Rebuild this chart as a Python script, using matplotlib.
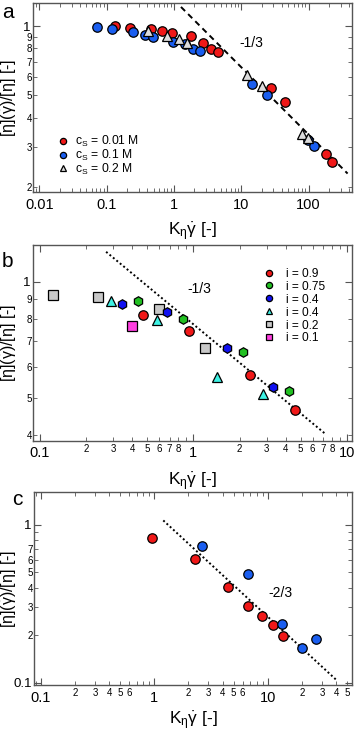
import numpy as np
import matplotlib
matplotlib.use("Agg")
import matplotlib.pyplot as plt
from matplotlib.ticker import LogLocator, FuncFormatter, NullFormatter

plt.rcParams["font.family"] = ["Liberation Sans", "DejaVu Sans"]
plt.rcParams["mathtext.fontset"] = "custom"
plt.rcParams["mathtext.rm"] = "Liberation Sans"
plt.rcParams["mathtext.it"] = "Liberation Sans"

# ---- panel a : salt concentration ----
a_red_x = [0.133, 0.222, 0.451, 0.67, 0.925, 1.79, 2.67, 3.51, 4.55, 27.4, 44.7, 181, 220]
a_red_y = [1.0, 0.983, 0.973, 0.954, 0.935, 0.908, 0.846, 0.792, 0.769, 0.541, 0.469, 0.279, 0.257]
a_blue_x = [0.0726, 0.121, 0.243, 0.367, 0.488, 0.955, 1.46, 1.94, 2.43, 14.6, 23.8, 99, 120]
a_blue_y = [0.987, 0.970, 0.945, 0.914, 0.899, 0.855, 0.833, 0.794, 0.781, 0.563, 0.501, 0.319, 0.301]
a_tri_x = [0.415, 0.778, 1.2, 1.58, 12.0, 20.1, 80.6, 99]
a_tri_y = [0.951, 0.908, 0.88, 0.841, 0.612, 0.548, 0.341, 0.328]
a_fit_x = [1.27, 381]
a_fit_y = [1.21, 0.229]

# ---- panel b : ionic strength ----
b_09_x = [0.473, 0.938, 2.33, 4.62]
b_09_y = [0.819, 0.746, 0.573, 0.464]
b_075_x = [0.433, 0.857, 2.11, 4.23]
b_075_y = [0.891, 0.80, 0.655, 0.52]
b_04h_x = [0.341, 0.678, 1.66, 3.29]
b_04h_y = [0.875, 0.833, 0.671, 0.534]
b_04t_x = [0.291, 0.581, 1.43, 2.85]
b_04t_y = [0.891, 0.795, 0.567, 0.511]
b_02_x = [0.1215, 0.238, 0.599, 1.186]
b_02_y = [0.923, 0.911, 0.849, 0.671]
b_01_x = [0.396]
b_01_y = [0.768]
b_fit_x = [0.27, 7.16]
b_fit_y = [1.196, 0.404]

# ---- panel c ----
c_red_x = [0.951, 2.29, 4.50, 6.66, 8.96, 11.2, 13.6]
c_red_y = [0.82, 0.605, 0.403, 0.306, 0.265, 0.231, 0.197]
c_blue_x = [2.62, 6.75, 13.4, 19.9, 26.6]
c_blue_y = [0.736, 0.485, 0.235, 0.166, 0.19]
c_fit_x = [1.2, 41.0]
c_fit_y = [1.066, 0.1026]

RED = "#f01818"
BLUE = "#1a5ef0"
DBLUE = "#1010f0"
GREEN = "#22c022"
CYAN = "#3ef2e4"
GRAY = "#c8c8c8"
MAGENTA = "#ff3fe0"
FRAME = "#555555"

xlab = r"$\mathregular{K_{\eta}\dot{\gamma}}$ [-]"
ylab = r"$\mathregular{[\eta](\dot{\gamma})/[\eta]}$ [-]"


def digit_fmt(keep):
    def f(v, pos):
        e = np.floor(np.log10(v) + 1e-9)
        d = int(round(v / 10 ** e))
        return str(d) if d in keep else ""
    return FuncFormatter(f)


def major_fmt(v, pos):
    return "%g" % v


def style(ax, xlim, ylim, xminor, yminor, xpad, ylx):
    ax.set_xscale("log")
    ax.set_yscale("log")
    ax.set_xlim(*xlim)
    ax.set_ylim(*ylim)
    for s in ax.spines.values():
        s.set_color(FRAME)
        s.set_linewidth(1.0)
    ax.xaxis.set_major_locator(LogLocator(base=10, numticks=20))
    ax.yaxis.set_major_locator(LogLocator(base=10, numticks=20))
    ax.xaxis.set_minor_locator(LogLocator(base=10, subs=range(2, 10), numticks=20))
    ax.yaxis.set_minor_locator(LogLocator(base=10, subs=range(2, 10), numticks=20))
    ax.xaxis.set_major_formatter(FuncFormatter(major_fmt))
    ax.yaxis.set_major_formatter(FuncFormatter(major_fmt))
    ax.xaxis.set_minor_formatter(digit_fmt(xminor) if xminor else NullFormatter())
    ax.yaxis.set_minor_formatter(digit_fmt(yminor) if yminor else NullFormatter())
    ax.tick_params(which="both", direction="in", top=True, right=True, color=FRAME)
    ax.tick_params(which="major", length=5, labelsize=10.5, pad=4)
    ax.tick_params(which="minor", length=3, labelsize=7, pad=2)
    ax.tick_params(axis="y", which="major", pad=2, labelsize=9.5)
    ax.tick_params(axis="y", which="minor", pad=1)
    ax.set_xlabel(xlab, fontsize=12.5, labelpad=xpad)
    ax.set_ylabel(ylab, fontsize=11.5)
    ax.yaxis.set_label_coords(ylx, 0.5)


fig = plt.figure(figsize=(3.54, 7.31), dpi=100)
axa = fig.add_axes([0.094, 0.737, 0.900, 0.2594])
axb = fig.add_axes([0.094, 0.397, 0.900, 0.2677])
axc = fig.add_axes([0.097, 0.0629, 0.897, 0.2644])

ms = 6.8
kw = dict(ls="none", mec="black", mew=0.9)

# panel a
style(axa, (0.0081, 441), (0.19, 1.263), None, [2, 3, 4, 5, 6, 7, 8, 9], 6, -0.046)
axa.plot(a_fit_x, a_fit_y, color="black", lw=1.4, ls=(0, (3, 2.2)))
axa.plot(a_red_x, a_red_y, "o", mfc=RED, ms=ms, **kw)
axa.plot(a_blue_x, a_blue_y, "o", mfc=BLUE, ms=ms, **kw)
axa.plot(a_tri_x, a_tri_y, "^", mfc="#dcdcdc", ms=ms + 1, **kw)
axa.text(14.3, 0.84, "-1/3", fontsize=10, ha="center", va="center")
ha = [axa.plot([], [], "o", mfc=RED, ms=4.5, **kw)[0],
      axa.plot([], [], "o", mfc=BLUE, ms=4.5, **kw)[0],
      axa.plot([], [], "^", mfc="#dcdcdc", ms=5, **kw)[0]]
axa.legend(ha, [r"c$_\mathregular{S}$ = 0.01 M", r"c$_\mathregular{S}$ = 0.1 M",
                r"c$_\mathregular{S}$ = 0.2 M"],
           loc="lower left", bbox_to_anchor=(0.055, 0.05), frameon=False, fontsize=8.7,
           handlelength=1.0, handletextpad=0.5, labelspacing=-0.12, borderpad=0.0)

# panel b
style(axb, (0.0905, 10.8), (0.386, 1.245), [2, 3, 4, 5, 6, 7, 8], [4, 5, 6, 7, 8, 9], 7, -0.046)
axb.plot(b_fit_x, b_fit_y, color="black", lw=1.4, ls=(0, (1, 1.3)))
axb.plot(b_02_x, b_02_y, "s", mfc=GRAY, ms=ms, **kw)
axb.plot(b_01_x, b_01_y, "s", mfc=MAGENTA, ms=ms, **kw)
axb.plot(b_04t_x, b_04t_y, "^", mfc=CYAN, ms=ms + 1, **kw)
axb.plot(b_04h_x, b_04h_y, "h", mfc=DBLUE, ms=ms, **kw)
axb.plot(b_075_x, b_075_y, "h", mfc=GREEN, ms=ms, **kw)
axb.plot(b_09_x, b_09_y, "o", mfc=RED, ms=ms, **kw)
axb.text(1.1, 0.956, "-1/3", fontsize=10, ha="center", va="center")
hb = [axb.plot([], [], "o", mfc=RED, ms=4.5, **kw)[0],
      axb.plot([], [], "o", mfc=GREEN, ms=4.5, **kw)[0],
      axb.plot([], [], "o", mfc=DBLUE, ms=4.5, **kw)[0],
      axb.plot([], [], "^", mfc=CYAN, ms=4.5, **kw)[0],
      axb.plot([], [], "s", mfc=GRAY, ms=4, **kw)[0],
      axb.plot([], [], "s", mfc=MAGENTA, ms=4, **kw)[0]]
axb.legend(hb, ["i = 0.9", "i = 0.75", "i = 0.4", "i = 0.4", "i = 0.2", "i = 0.1"],
           loc="upper right", bbox_to_anchor=(0.935, 0.915), frameon=False, fontsize=8.6,
           handlelength=1.0, handletextpad=0.9, labelspacing=0.08, borderpad=0.0)

# panel c
style(axc, (0.0878, 55), (0.0966, 1.62), [2, 3, 4, 5, 6], [2, 3, 4, 5, 6, 7], 3, -0.049)
axc.plot(c_fit_x, c_fit_y, color="black", lw=1.4, ls=(0, (1, 1.3)))
axc.plot(c_red_x, c_red_y, "o", mfc=RED, ms=ms, **kw)
axc.plot(c_blue_x, c_blue_y, "o", mfc=BLUE, ms=ms, **kw)
axc.text(13.0, 0.369, "-2/3", fontsize=10, ha="center", va="center")

fig.text(0.006, 0.975, "a", fontsize=15, va="baseline")
fig.text(0.006, 0.635, "b", fontsize=15, va="baseline")
fig.text(0.034, 0.309, "c", fontsize=15, va="baseline")

fig.savefig("out.png", dpi=100)
